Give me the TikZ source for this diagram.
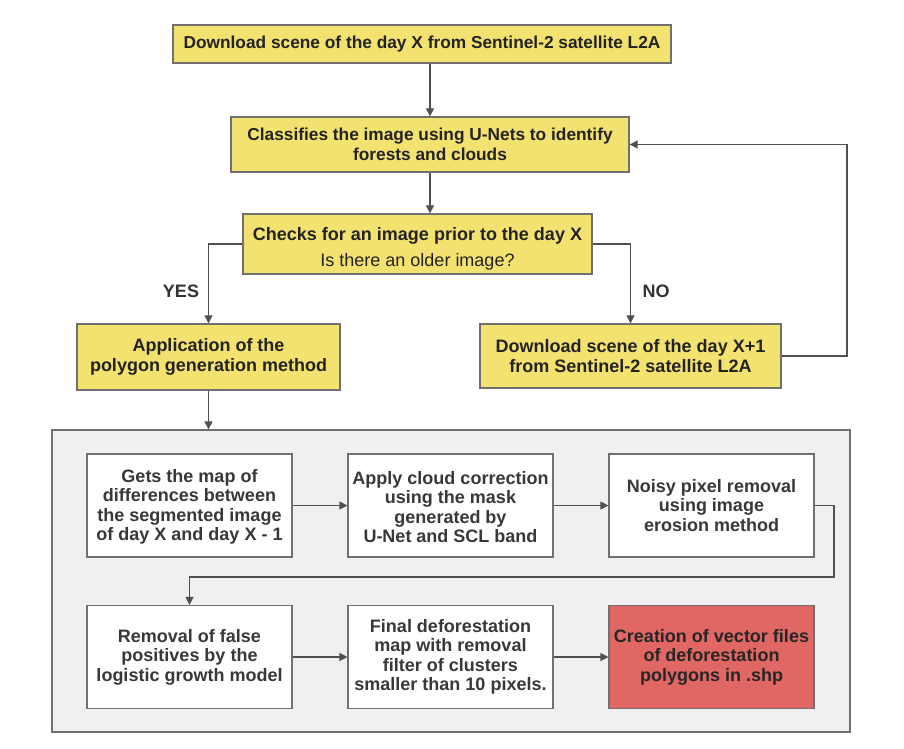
\documentclass[tikz,border=0pt]{standalone}
\usepackage{fontspec}
\setmainfont{Liberation Sans}
\usetikzlibrary{arrows.meta,positioning,calc}
\definecolor{boxyellow}{RGB}{243,226,112}
\definecolor{boxred}{RGB}{224,103,99}
\definecolor{panelgray}{RGB}{240,240,240}
\definecolor{edgegray}{RGB}{112,112,112}
\definecolor{linegray}{RGB}{80,80,80}
\definecolor{txtdark}{RGB}{35,35,35}

\begin{document}
\begin{tikzpicture}[x=1pt,y=-1pt,
  txt/.style={font=\bfseries\fontsize{18}{19.5}\selectfont,text=txtdark,align=center,inner sep=0pt},
  ybox/.style={txt,draw=edgegray,line width=1.3pt,fill=boxyellow},
  ysmall/.style={ybox,font=\bfseries\fontsize{17.3}{20}\selectfont},
  wbox/.style={txt,draw=edgegray,line width=1.1pt,fill=white,minimum width=205pt,minimum height=103pt,text=black!78},
  flow/.style={-{Triangle[width=8pt,length=8pt]},draw=linegray,line width=1.1pt}]
  \useasboundingbox (0,0) rectangle (904,748);

  \node[ysmall,minimum width=498pt,minimum height=38pt] (scene) at (422,44) {Download scene of the day X from Sentinel-2 satellite L2A};
  \node[ysmall,minimum width=398pt,minimum height=55pt] (classify) at (430,144.5) {Classifies the image using U-Nets to identify\\forests and clouds};
  \node[ybox,minimum width=349pt,minimum height=60pt] (check) at (417.5,244) {\rule{0pt}{23pt}Checks for an image prior to the day X\\[6pt]{\mdseries Is there an older image?}};
  \node[ybox,minimum width=263pt,minimum height=66pt] (polygon) at (208.5,357) {Application of the\\polygon generation method};
  \node[ybox,minimum width=301pt,minimum height=64pt] (nextday) at (630.5,356) {Download scene of the day X+1\\from Sentinel-2 satellite L2A};
  \node[txt,text=black!80] (yes) at (181,291) {YES};
  \node[txt,text=black!80] (no) at (656,291) {NO};
  \coordinate (loop) at (847,356);

  \node[draw=edgegray,fill=panelgray,line width=1.3pt,minimum width=798pt,minimum height=302pt,inner sep=0pt] (panel) at (451,581) {};
  \node[wbox] (diff) at (189.5,505.5) {\rule{0pt}{16pt}Gets the map of\\differences between\\the segmented image\\of day X and day X - 1};
  \node[wbox] (cloud) at (450.5,505.5) {\rule{0pt}{16pt}Apply cloud correction\\using the mask\\generated by\\U-Net and SCL band};
  \node[wbox] (noise) at (711.5,505.5) {Noisy pixel removal\\using image\\erosion method};
  \node[wbox] (logistic) at (189.5,657) {Removal of false\\positives by the\\logistic growth model};
  \node[wbox] (final) at (450.5,657) {Final deforestation\\map with removal\\filter of clusters\\smaller than 10 pixels.};
  \node[wbox,fill=boxred,text=black!85] (vector) at (711.5,657) {Creation of vector files\\of deforestation\\polygons in .shp};
  \coordinate (turn) at (834,577);

  \draw[flow] (scene.south -| classify.north) -- (classify.north);
  \draw[flow] (classify.south) -- (classify.south |- check.north);
  \draw[flow] (check.west) -| (polygon.north);
  \draw[flow] (check.east) -| (nextday.north);
  \draw[flow] (nextday.east) -- (loop) |- (classify.east);
  \draw[flow] (polygon.south) -- (polygon.south |- panel.north);
  \draw[flow] (diff.east) -- (cloud.west);
  \draw[flow] (cloud.east) -- (noise.west);
  \draw[flow] (noise.east) -| (turn) -| (logistic.north);
  \draw[flow] (logistic.east) -- (final.west);
  \draw[flow] (final.east) -- (vector.west);
\end{tikzpicture}
\end{document}
